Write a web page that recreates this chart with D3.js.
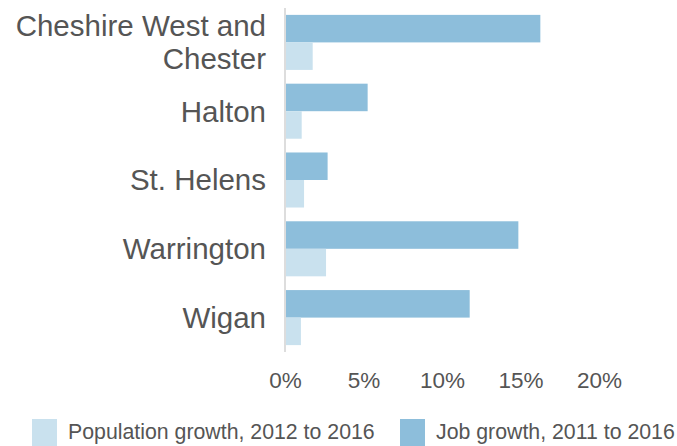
<!DOCTYPE html>
<html>
<head>
<meta charset="utf-8">
<script src="https://cdn.jsdelivr.net/npm/d3@7"></script>
<style>
  body { margin: 0; background: #fff; }
  svg { display: block; font-family: "Liberation Sans", Arial, sans-serif; }
  .cat text { fill: #555; font-size: 29.5px; }
  .x-axis text { fill: #555; font-size: 22.5px; }
  .legend text { fill: #555; font-size: 21.3px; }
</style>
</head>
<body>
<svg id="chart" width="677" height="446"></svg>
<script>
const categories = ['Cheshire West and Chester', 'Halton', 'St. Helens', 'Warrington', 'Wigan'];
const catLines = [['Cheshire West and', 'Chester'], ['Halton'], ['St. Helens'], ['Warrington'], ['Wigan']];
const jobGrowth = [16.2, 5.2, 2.65, 14.8, 11.7];
const popGrowth = [1.7, 1.0, 1.15, 2.55, 0.95];
const xTicks = [0, 5, 10, 15, 20];
const seriesNames = ['Population growth, 2012 to 2016', 'Job growth, 2011 to 2016'];
const colors = { job: '#8dbedb', pop: '#c9e1ee' };

const svg = d3.select('#chart');

const x = d3.scaleLinear().domain([0, 20]).range([286, 600]);
const y = d3.scaleBand().domain(categories).range([8, 352]).paddingInner(0.2).paddingOuter(0.1);
const sub = d3.scaleBand().domain(['job', 'pop']).range([0, y.bandwidth()]);

// vertical baseline
svg.append('line')
  .attr('x1', 285).attr('x2', 285)
  .attr('y1', 8).attr('y2', 352)
  .attr('stroke', '#ddd').attr('stroke-width', 2);

const groups = svg.append('g').selectAll('g.grp').data(categories).enter()
  .append('g').attr('class', 'grp')
  .attr('transform', d => `translate(0,${y(d)})`);

groups.append('rect')
  .attr('x', x(0)).attr('y', sub('job'))
  .attr('height', sub.bandwidth())
  .attr('width', (d, i) => x(jobGrowth[i]) - x(0))
  .attr('fill', colors.job);

groups.append('rect')
  .attr('x', x(0)).attr('y', sub('pop'))
  .attr('height', sub.bandwidth())
  .attr('width', (d, i) => x(popGrowth[i]) - x(0))
  .attr('fill', colors.pop);

// category labels
const cat = svg.append('g').attr('class', 'cat');
categories.forEach((c, i) => {
  const lines = catLines[i];
  const cy = y(c) + y.bandwidth() / 2;
  const lh = 33;
  const t = cat.append('text').attr('text-anchor', 'end').attr('x', 266);
  lines.forEach((ln, j) => {
    t.append('tspan').attr('x', 266)
      .attr('y', cy + (j - (lines.length - 1) / 2) * lh)
      .attr('dy', '0.35em').text(ln);
  });
});

// x axis
const xAxis = svg.append('g').attr('class', 'x-axis')
  .attr('transform', 'translate(-1,370)')
  .call(d3.axisBottom(x).tickValues(xTicks).tickFormat(d => d + '%').tickSize(0).tickPadding(0));
xAxis.select('.domain').remove();
xAxis.selectAll('text').attr('dy', '0.71em').attr('y', 2);

// legend
const legend = svg.append('g').attr('class', 'legend');
const legendX = [32, 400];
const legendKeys = ['pop', 'job'];
legendKeys.forEach((k, i) => {
  legend.append('rect').attr('x', legendX[i]).attr('y', 419)
    .attr('width', 25).attr('height', 27).attr('fill', colors[k]);
  legend.append('text').attr('x', legendX[i] + 36).attr('y', 439).text(seriesNames[i]);
});
</script>
</body>
</html>
